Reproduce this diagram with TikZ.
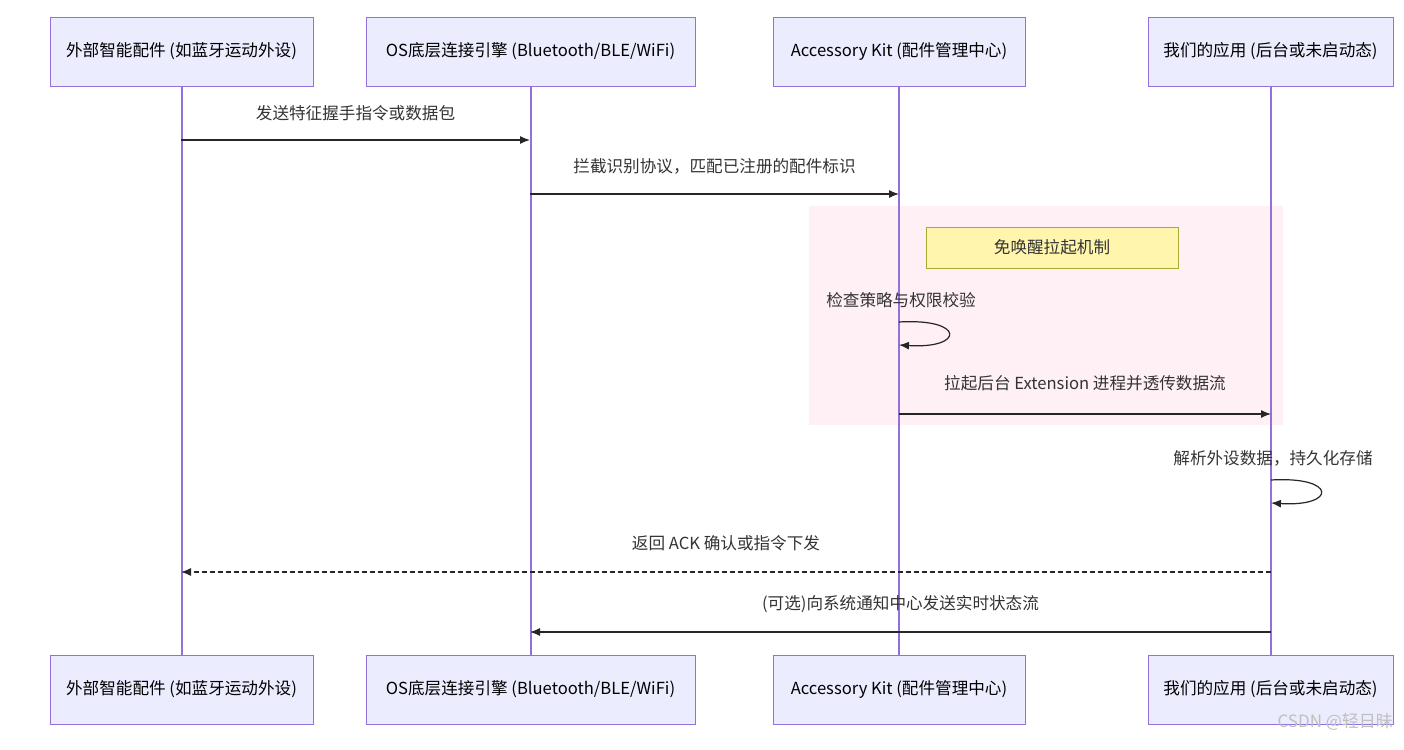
\documentclass[tikz,border=0pt]{standalone}
\usepackage{fontspec}
\setmainfont{Noto Sans CJK SC}
\usetikzlibrary{arrows.meta,positioning}
\definecolor{actfill}{HTML}{ECECFF}
\definecolor{actline}{HTML}{9370DB}
\definecolor{notefill}{HTML}{FFF5AD}
\definecolor{noteline}{HTML}{AAAA33}
\definecolor{boxfill}{HTML}{FFF0F5}
\tikzset{
  actor/.style={draw=actline,fill=actfill,minimum height=34.5pt,inner sep=0pt,font=\fontsize{8.3}{10}\selectfont},
  life/.style={actline,line width=1pt},
  msg/.style={-{Latex[length=5pt,width=4pt]},line width=0.6pt,black!85},
  lbl/.style={font=\fontsize{8.3}{10}\selectfont,text=black!80},
}
\begin{document}
\begin{tikzpicture}[x=0.5pt,y=-0.5pt]
\useasboundingbox (0,0) rectangle (1404,750);

% highlight region
\fill[boxfill] (809,206) rectangle (1283,425);

% actors
\foreach \nm/\xa/\xb/\txt in {ext/50/313/{外部智能配件 (如蓝牙运动外设)},
  os/366/695/{OS底层连接引擎 (Bluetooth/BLE/WiFi)},
  kit/773/1025/{Accessory Kit (配件管理中心)},
  app/1148/1393/{我们的应用 (后台或未启动态)}}{
  \node[actor,minimum width={(\xb-\xa)*0.5pt}] (\nm-top) at ({(\xa+\xb)/2},51.5) {\txt};
  \node[actor,minimum width={(\xb-\xa)*0.5pt}] (\nm-bot) at ({(\xa+\xb)/2},689.5) {\txt};
  \draw[life] (\nm-top) -- (\nm-bot);
}

% note
\node[draw=noteline,fill=notefill,minimum width=126pt,minimum height=20.5pt,lbl] (note) at (1052,247.5) {免唤醒拉起机制};

% messages
\coordinate (m1a) at (181,140); \coordinate (m1b) at (530,140);
\draw[msg] (m1a) -- (m1b) node[midway,above=6pt,lbl] {发送特征握手指令或数据包};
\coordinate (m2a) at (530,194); \coordinate (m2b) at (899,194);
\draw[msg] (m2a) -- (m2b) node[midway,above=6pt,lbl] {拦截识别协议，匹配已注册的配件标识};

\coordinate (s1a) at (899,322); \coordinate (s1b) at (899,345);
\node[lbl] (s1l) at (901,300) {检查策略与权限校验};
\draw[msg] (s1a) .. controls (965,318) and (965,349) .. (s1b);

\coordinate (m3a) at (899,414); \coordinate (m3b) at (1271,414);
\draw[msg] (m3a) -- (m3b) node[midway,above=8pt,lbl] {拉起后台 Extension 进程并透传数据流};

\coordinate (s2a) at (1271,480); \coordinate (s2b) at (1271,503);
\node[lbl] (s2l) at (1273,458) {解析外设数据，持久化存储};
\draw[msg] (s2a) .. controls (1337,476) and (1337,507) .. (s2b);

\coordinate (m4a) at (1271,572); \coordinate (m4b) at (181,572);
\draw[msg,dash pattern=on 2.5pt off 1.5pt] (m4a) -- (m4b) node[midway,above=7pt,lbl] {返回 ACK 确认或指令下发};
\coordinate (m5a) at (1271,632); \coordinate (m5b) at (530,632);
\draw[msg] (m5a) -- (m5b) node[midway,above=6pt,lbl] {(可选)向系统通知中心发送实时状态流};

\node[font=\fontsize{8.5}{10}\selectfont,text=black!25,anchor=east] (wm) at (1400,722) {CSDN @轻日昧};
\end{tikzpicture}
\end{document}
